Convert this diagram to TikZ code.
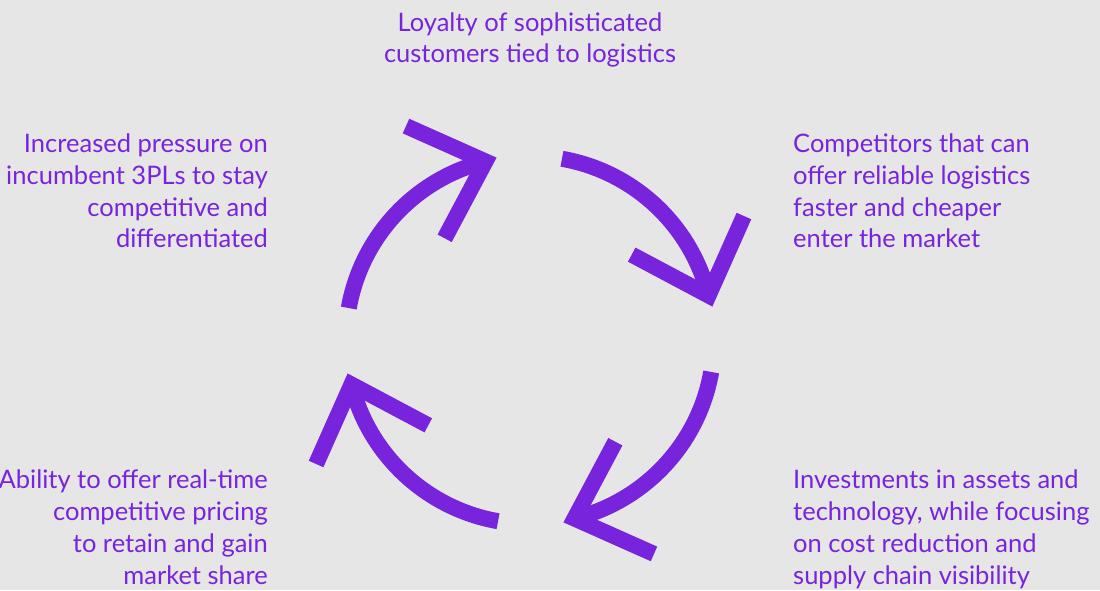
\documentclass[tikz,border=0pt]{standalone}
\usepackage{fontspec}
\setmainfont{Lato}
\definecolor{loopviolet}{RGB}{120,36,220}
\definecolor{paper}{RGB}{230,230,230}

\begin{document}
\begin{tikzpicture}[x=1pt, y=1pt,
  cyclearrow/.style={draw=loopviolet, line width=16pt, line join=miter},
  cycletext/.style={text=loopviolet, inner sep=0pt,
    font=\fontsize{25.5}{31.7}\selectfont}]
  \fill[paper] (0, 0) rectangle (1100, 590);
  \useasboundingbox (0, 0) rectangle (1100, 590);

  \coordinate (C) at (530, 250);

  % four arcs of the loop, each ending in an open chevron
  \draw[cyclearrow] (C) ++(170:184) arc[start angle=170, end angle=104, radius=184] coordinate (T1);
  \draw[cyclearrow] (T1) ++(156:87) -- (T1) -- ++(242:87);

  \draw[cyclearrow] (C) ++(80:184) arc[start angle=80, end angle=14, radius=184] coordinate (T2);
  \draw[cyclearrow] (T2) ++(66:87) -- (T2) -- ++(152:87);

  \draw[cyclearrow] (C) ++(-10:184) arc[start angle=-10, end angle=-76, radius=184] coordinate (T3);
  \draw[cyclearrow] (T3) ++(-24:87) -- (T3) -- ++(62:87);

  \draw[cyclearrow] (C) ++(-100:184) arc[start angle=-100, end angle=-166, radius=184] coordinate (T4);
  \draw[cyclearrow] (T4) ++(-114:87) -- (T4) -- ++(-28:87);

  % the five stages (base anchor sits on the last line)
  \node[cycletext, align=center, anchor=base] (loyalty) at (530, 527)
    {Loyalty of sophisticated\\customers tied to logistics};
  \node[cycletext, align=left, anchor=base west] (entrants) at (793, 342)
    {Competitors that can\\offer reliable logistics\\faster and cheaper\\enter the market};
  \node[cycletext, align=left, anchor=base west] (investment) at (793, 6)
    {Investments in assets and\\technology, while focusing\\on cost reduction and\\supply chain visibility};
  \node[cycletext, align=right, anchor=base east] (pricing) at (268, 6)
    {Ability to offer real-time\\competitive pricing\\to retain and gain\\market share};
  \node[cycletext, align=right, anchor=base east] (pressure) at (268, 342)
    {Increased pressure on\\incumbent 3PLs to stay\\competitive and\\differentiated};
\end{tikzpicture}
\end{document}
